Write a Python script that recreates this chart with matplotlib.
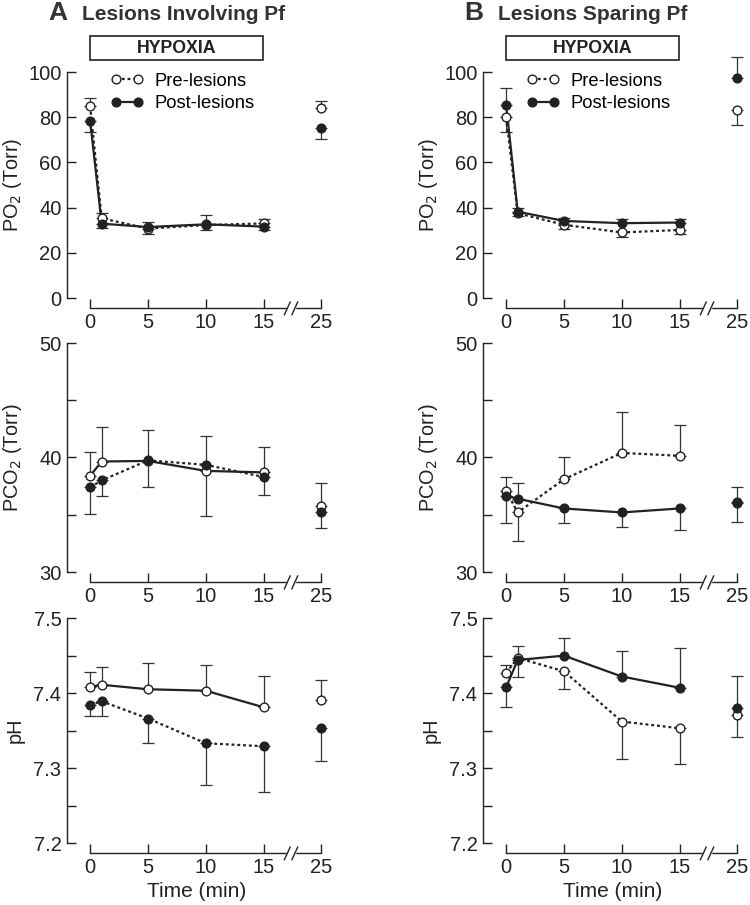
import matplotlib
matplotlib.use("Agg")
import matplotlib.pyplot as plt
import matplotlib.transforms as mtransforms
from matplotlib.patches import Rectangle
from matplotlib.lines import Line2D
import numpy as np

plt.rcParams['font.family'] = ['Liberation Sans', 'DejaVu Sans']

times = [0, 1, 5, 10, 15, 25]
tick_times = [0, 5, 10, 15, 25]

# signed errors: positive -> bar drawn upward, negative -> downward

# A: lesions involving Pf
a_po2_pre = [84.9, 35.3, 30.7, 32.3, 33.0, 84.0]
a_po2_post = [78.5, 32.9, 31.4, 32.6, 31.6, 75.1]
a_po2_pre_err = [3.8, 2.5, -2.6, -2.4, 2.1, 3.0]
a_po2_post_err = [-4.9, -1.8, 2.2, 4.0, -1.7, -4.7]

a_pco2_pre = [38.4, 39.65, 39.7, 38.83, 38.7, 35.8]
a_pco2_post = [37.4, 38.0, 39.75, 39.36, 38.3, 35.2]
a_pco2_pre_err = [2.1, 3.05, -2.3, -3.9, 2.2, 2.0]
a_pco2_post_err = [-2.3, -1.4, 2.65, 2.55, -1.6, -1.4]

a_ph_pre = [7.408, 7.411, 7.405, 7.403, 7.381, 7.391]
a_ph_post = [7.384, 7.389, 7.366, 7.333, 7.329, 7.354]
a_ph_pre_err = [0.020, 0.024, 0.035, 0.035, 0.042, 0.026]
a_ph_post_err = [-0.015, -0.020, -0.032, -0.056, -0.061, -0.044]

# B: lesions sparing Pf
b_po2_pre = [79.9, 37.5, 32.4, 29.0, 30.1, 83.4]
b_po2_post = [85.6, 38.2, 34.1, 33.1, 33.4, 97.4]
b_po2_pre_err = [-6.4, -1.0, -2.0, -1.8, -1.9, -6.9]
b_po2_post_err = [7.5, 1.5, 1.5, 1.9, 1.6, 9.2]

b_pco2_pre = [37.1, 35.2, 38.1, 40.4, 40.15, 36.0]
b_pco2_post = [36.66, 36.4, 35.55, 35.2, 35.55, 36.1]
b_pco2_pre_err = [1.2, -2.5, 1.9, 3.6, 2.65, -1.6]
b_pco2_post_err = [-2.36, 1.4, -1.25, -1.3, -1.85, 1.3]

b_ph_pre = [7.4267, 7.4467, 7.429, 7.362, 7.353, 7.371]
b_ph_post = [7.4076, 7.444, 7.4498, 7.422, 7.407, 7.380]
b_ph_pre_err = [0.010, 0.016, -0.024, -0.050, -0.047, -0.029]
b_ph_post_err = [-0.026, -0.023, 0.023, 0.034, 0.053, 0.043]

INK = '#222222'
DOTS = (0, (1.3, 1.3))


def pos(t):
    # axis break between 15 and 25 min
    return t if t <= 15 else t - 5


def split_err(err):
    err = np.array(err, dtype=float)
    return [np.clip(-err, 0, None), np.clip(err, 0, None)]


def draw_series(ax, vals, err, filled, dotted):
    x = [pos(t) for t in times]
    ls = DOTS if dotted else '-'
    ax.errorbar(x, vals, yerr=split_err(err), fmt='none', ecolor='#333333',
                elinewidth=0.9, capsize=4, capthick=0.9, clip_on=False, zorder=2)
    # lines only through the hypoxia period, 25 min stands alone
    ax.plot(x[:5], vals[:5], linestyle=ls, color=INK, lw=1.6, zorder=3)
    ax.plot(x, vals, linestyle='none', marker='o', ms=6.3, mec=INK, mew=1.0,
            mfc=INK if filled else 'white', clip_on=False, zorder=4)


def style_axis(ax, ylim, major, minor, ylabel):
    ax.set_xlim(-2.0, 20.4)
    ax.set_ylim(*ylim)
    for s in ['top', 'right']:
        ax.spines[s].set_visible(False)
    ax.spines['bottom'].set_position(('outward', 7.5))
    ax.spines['bottom'].set_bounds(0, 20)
    ax.spines['left'].set_bounds(*ylim)
    for s in ['bottom', 'left']:
        ax.spines[s].set_linewidth(1.0)
        ax.spines[s].set_color(INK)
    ax.set_xticks([pos(t) for t in tick_times])
    ax.set_xticklabels([str(t) for t in tick_times])
    ax.set_yticks(major)
    ax.set_yticks(minor, minor=True)
    ax.tick_params(axis='both', which='both', direction='in', length=6.5,
                   width=1.0, color=INK, labelsize=14.5, labelcolor=INK)
    ax.tick_params(axis='x', pad=3)
    ax.tick_params(axis='y', pad=4)
    ax.set_ylabel(ylabel, fontsize=14.3, color=INK)
    ax.yaxis.set_label_coords(-0.165, 0.5)

    # break marks on the x axis
    tr = ax.get_xaxis_transform() + mtransforms.ScaledTranslation(
        0, -7.5 / 72, ax.figure.dpi_scale_trans)
    ax.plot([17.15, 17.6], [0, 0], color='white', lw=2.5, transform=tr,
            clip_on=False, zorder=5)
    for xb in (17.05, 17.7):
        ax.plot([xb - 0.25, xb + 0.25], [-0.028, 0.028], color=INK, lw=1.0,
                transform=tr, clip_on=False, zorder=6)


fig = plt.figure(figsize=(7.5, 9.05), dpi=100)
W, H = 750.0, 905.0

rows = [(72, 298), (343, 572), (618, 843)]
cols = [67, 483]
ax_w = 259

panels = {
    0: [(a_po2_pre, a_po2_pre_err, a_po2_post, a_po2_post_err, True),
        (a_pco2_pre, a_pco2_pre_err, a_pco2_post, a_pco2_post_err, False),
        (a_ph_pre, a_ph_pre_err, a_ph_post, a_ph_post_err, False)],
    1: [(b_po2_pre, b_po2_pre_err, b_po2_post, b_po2_post_err, True),
        (b_pco2_pre, b_pco2_pre_err, b_pco2_post, b_pco2_post_err, True),
        (b_ph_pre, b_ph_pre_err, b_ph_post, b_ph_post_err, True)],
}

row_axes = [
    ((0, 100), [0, 20, 40, 60, 80, 100], [], 'PO$_2$ (Torr)'),
    ((30, 50), [30, 40, 50], [35, 45], 'PCO$_2$ (Torr)'),
    ((7.2, 7.5), [7.2, 7.3, 7.4, 7.5], [7.25, 7.35, 7.45], 'pH'),
]

titles = [('A', 'Lesions Involving Pf'), ('B', 'Lesions Sparing Pf')]

for c, left in enumerate(cols):
    for r, (top, bottom) in enumerate(rows):
        ax = fig.add_axes([left / W, 1 - bottom / H, ax_w / W, (bottom - top) / H])
        pre, pre_err, post, post_err, pre_dotted = panels[c][r]
        ylim, major, minor, ylabel = row_axes[r]
        draw_series(ax, pre, pre_err, filled=False, dotted=pre_dotted)
        draw_series(ax, post, post_err, filled=True, dotted=not pre_dotted)
        style_axis(ax, ylim, major, minor, ylabel)
        if r == 0:
            handles = [
                Line2D([0], [0], color=INK, lw=1.6, linestyle=DOTS,
                       marker='o', ms=6.3, mfc='white', mec=INK, mew=1.0),
                Line2D([0], [0], color=INK, lw=1.6, linestyle='-',
                       marker='o', ms=6.3, mfc=INK, mec=INK, mew=1.0),
            ]
            ax.legend(handles, ['Pre-lesions', 'Post-lesions'], numpoints=2,
                      handlelength=1.8, handletextpad=0.6, labelspacing=0.3,
                      frameon=False, fontsize=13.2, loc='upper left',
                      bbox_to_anchor=(0.14, 1.03), borderaxespad=0)
            # hypoxia bar from 0 to 15 min
            trb = ax.get_xaxis_transform()
            box_y0 = (298 - 60) / (298 - 72)
            box_h = 24 / (298 - 72)
            ax.add_patch(Rectangle((pos(0) - 0.05, box_y0), 15.0, box_h,
                                   transform=trb, fill=False, ec=INK, lw=1.2,
                                   clip_on=False))
            ax.text(pos(0) + 7.5, box_y0 + box_h / 2, 'HYPOXIA', transform=trb,
                    ha='center', va='center', fontsize=12.8, fontweight='bold',
                    color=INK)
        if r == 2:
            ax.set_xlabel('Time (min)', fontsize=15, color=INK, labelpad=4)

    letter, title = titles[c]
    fig.text((left - 19) / W, 1 - 13 / H, letter, fontsize=19, fontweight='bold',
             color='#333333', va='center', ha='left')
    fig.text((left + 15) / W, 1 - 14 / H, title, fontsize=15, fontweight='bold',
             color='#333333', va='center', ha='left')

fig.savefig('out.png', dpi=100)
